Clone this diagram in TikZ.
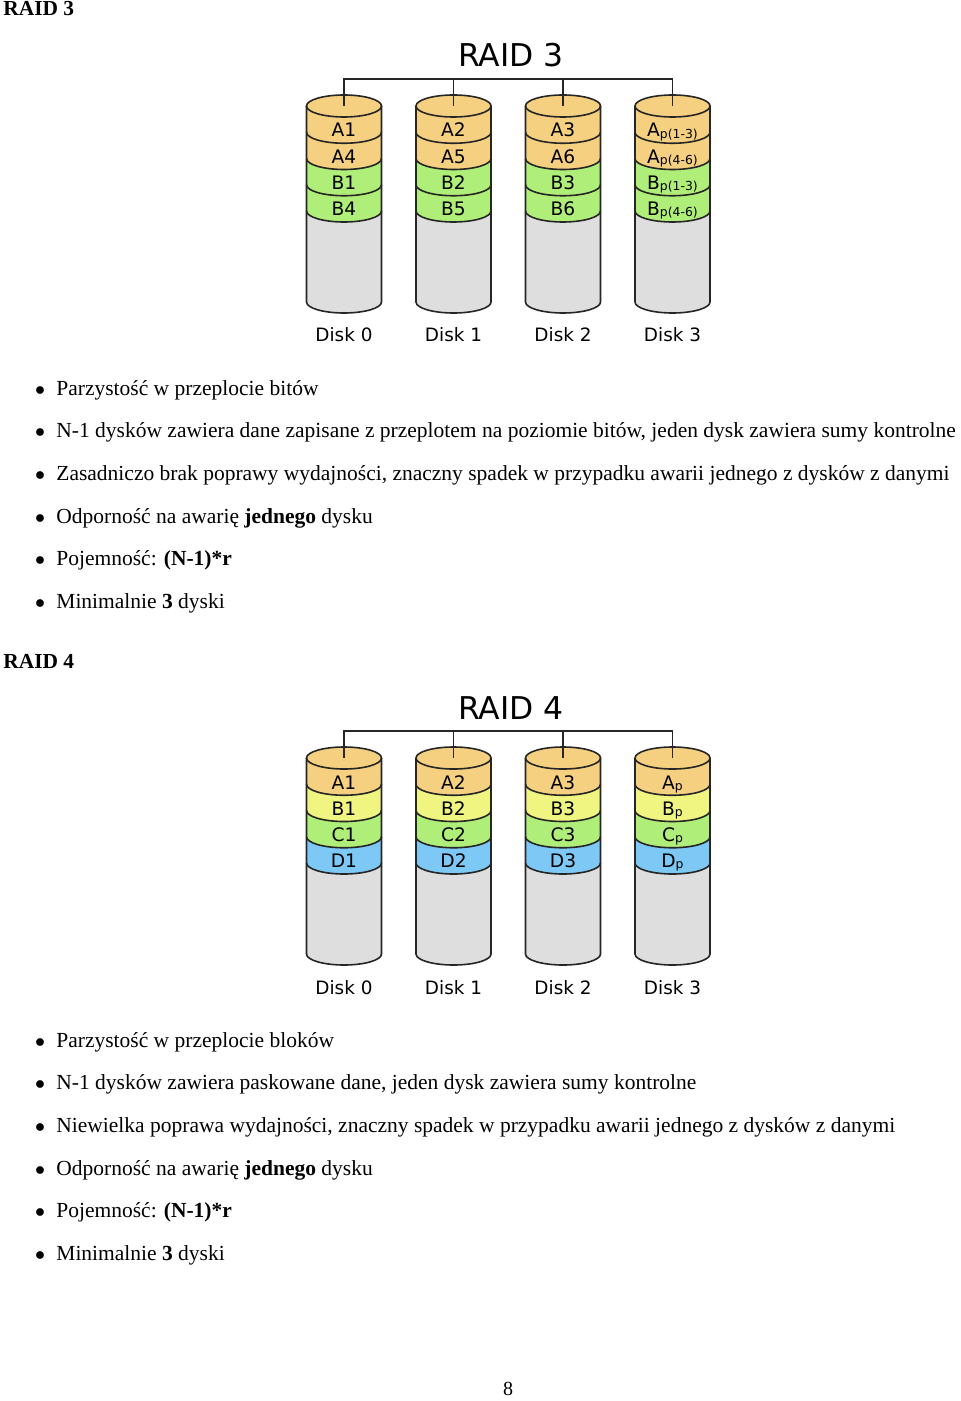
\documentclass[tikz,border=0pt]{standalone}
\usepackage{fontspec}
\setmainfont{Liberation Serif}
\newfontfamily\vera{DejaVu Sans}
\usetikzlibrary{positioning}
\definecolor{pomaranczowy}{RGB}{245,208,128}
\definecolor{zielony}{RGB}{175,238,120}
\definecolor{zolty}{RGB}{240,245,130}
\definecolor{niebieski}{RGB}{125,200,245}
\definecolor{szary}{RGB}{222,222,222}

% dysk: #1 nazwa, #2 x srodka, #3 y gornej elipsy, #4-#7 kolory warstw
\newcommand{\dysk}[7]{%
  \fill[szary] (#2-37.5,#3) -- (#2-37.5,#3+196)
    arc[start angle=180,end angle=360,x radius=18.75pt,y radius=5.5pt] -- (#2+37.5,#3) -- cycle;
  \foreach \kol [count=\i from 0] in {#4,#5,#6,#7}
    \fill[\kol] (#2-37.5,#3+26.25*\i) -- (#2-37.5,#3+26.25*\i+26.25)
      arc[start angle=180,end angle=360,x radius=18.75pt,y radius=5.5pt]
      -- (#2+37.5,#3+26.25*\i)
      arc[start angle=0,end angle=-180,x radius=18.75pt,y radius=5.5pt] -- cycle;
  \foreach \i in {1,...,4}
    \draw[obrys] (#2-37.5,#3+26.25*\i) arc[start angle=180,end angle=360,x radius=18.75pt,y radius=5.5pt];
  \draw[obrys,fill=pomaranczowy] (#2,#3) ellipse[x radius=18.75pt,y radius=5.5pt];
  \draw[obrys] (#2-37.5,#3) -- (#2-37.5,#3+196)
    arc[start angle=180,end angle=360,x radius=18.75pt,y radius=5.5pt] -- (#2+37.5,#3);
  \coordinate (#1) at (#2,#3);
}
\newcommand{\sub}[1]{\raisebox{-0.6pt}{\fontsize{6.2}{7}\selectfont #1}}

\begin{document}
\begin{tikzpicture}[x=0.5pt,y=-0.5pt,
  obrys/.style={line width=0.8pt,black!85},
  linia/.style={line width=0.6pt,black!85},
  blok/.style={inner sep=0pt,anchor=base,font=\vera\fontsize{9.3}{11}\selectfont},
  etykieta/.style={inner sep=0pt,anchor=base,font=\vera\fontsize{9.2}{11}\selectfont},
  tytul/.style={inner sep=0pt,anchor=base,font=\vera\fontsize{15.7}{18}\selectfont},
  naglowek/.style={inner sep=0pt,anchor=base west,font=\fontsize{10.7}{13}\selectfont\bfseries},
  punkt/.style={inner sep=0pt,anchor=base west,font=\fontsize{10.75}{13}\selectfont},
  kropka/.style={inner sep=0pt,anchor=base,font=\fontsize{10}{12}\selectfont}]

  \useasboundingbox (0,0) rectangle (960,1401);
  \fill[white] (0,0) rectangle (960,1401);

  \node[naglowek] (h3) at (3,16) {RAID 3};
  \node[tytul] (t3) at (511,67) {RAID 3};
  \dysk{r3d0}{344}{106}{pomaranczowy}{pomaranczowy}{zielony}{zielony}
  \dysk{r3d1}{453.5}{106}{pomaranczowy}{pomaranczowy}{zielony}{zielony}
  \dysk{r3d2}{563}{106}{pomaranczowy}{pomaranczowy}{zielony}{zielony}
  \dysk{r3d3}{672.5}{106}{pomaranczowy}{pomaranczowy}{zielony}{zielony}
  \coordinate (r3szyna) at (511,79);
  \draw[linia] (r3d0) |- (r3szyna) -| (r3d3);
  \draw[linia] (r3d1) -- (r3d1 |- r3szyna);
  \draw[linia] (r3d2) -- (r3d2 |- r3szyna);

  \foreach \a/\b/\c/\d [count=\k from 0] in {A1/A4/B1/B4, A2/A5/B2/B5, A3/A6/B3/B6,
      A\sub{p(1-3)}/A\sub{p(4-6)}/B\sub{p(1-3)}/B\sub{p(4-6)}} {
    \node[blok] (r3a\k) at (344+109.5*\k,137) {\a};
    \node[blok] (r3b\k) at (344+109.5*\k,163.25) {\b};
    \node[blok] (r3c\k) at (344+109.5*\k,189.5) {\c};
    \node[blok] (r3e\k) at (344+109.5*\k,215.75) {\d};
    \node[etykieta] (r3n\k) at (344+109.5*\k,342) {Disk \k};
  }

  \foreach \t [count=\i from 0] in {{Parzystość w przeplocie bitów},
      {N-1 dysków zawiera dane zapisane z przeplotem na poziomie bitów, jeden dysk zawiera sumy kontrolne},
      {Zasadniczo brak poprawy wydajności, znaczny spadek w przypadku awarii jednego z dysków z danymi},
      {Odporność na awarię \textbf{jednego} dysku},
      {Pojemność: \textbf{(N-1)*r}},
      {Minimalnie \textbf{3} dyski}} {
    \node[kropka] (r3k\i) at (40,395+42.7*\i) {$\bullet$};
    \node[punkt] (r3p\i) at (56,395+42.7*\i) {\t};
  }

  \node[naglowek] (h4) at (3,668) {RAID 4};
  \node[tytul] (t4) at (511,719) {RAID 4};
  \dysk{r4d0}{344}{758}{pomaranczowy}{zolty}{zielony}{niebieski}
  \dysk{r4d1}{453.5}{758}{pomaranczowy}{zolty}{zielony}{niebieski}
  \dysk{r4d2}{563}{758}{pomaranczowy}{zolty}{zielony}{niebieski}
  \dysk{r4d3}{672.5}{758}{pomaranczowy}{zolty}{zielony}{niebieski}
  \coordinate (r4szyna) at (511,731);
  \draw[linia] (r4d0) |- (r4szyna) -| (r4d3);
  \draw[linia] (r4d1) -- (r4d1 |- r4szyna);
  \draw[linia] (r4d2) -- (r4d2 |- r4szyna);

  \foreach \a/\b/\c/\d [count=\k from 0] in {A1/B1/C1/D1, A2/B2/C2/D2, A3/B3/C3/D3,
      A\sub{p}/B\sub{p}/C\sub{p}/D\sub{p}} {
    \node[blok] (r4a\k) at (344+109.5*\k,789) {\a};
    \node[blok] (r4b\k) at (344+109.5*\k,815.25) {\b};
    \node[blok] (r4c\k) at (344+109.5*\k,841.5) {\c};
    \node[blok] (r4e\k) at (344+109.5*\k,867.75) {\d};
    \node[etykieta] (r4n\k) at (344+109.5*\k,994) {Disk \k};
  }

  \foreach \t [count=\i from 0] in {{Parzystość w przeplocie bloków},
      {N-1 dysków zawiera paskowane dane, jeden dysk zawiera sumy kontrolne},
      {Niewielka poprawa wydajności, znaczny spadek w przypadku awarii jednego z dysków z danymi},
      {Odporność na awarię \textbf{jednego} dysku},
      {Pojemność: \textbf{(N-1)*r}},
      {Minimalnie \textbf{3} dyski}} {
    \node[kropka] (r4k\i) at (40,1047+42.7*\i) {$\bullet$};
    \node[punkt] (r4p\i) at (56,1047+42.7*\i) {\t};
  }

  \node[kropka] (strona) at (508,1395) {8};
\end{tikzpicture}
\end{document}
